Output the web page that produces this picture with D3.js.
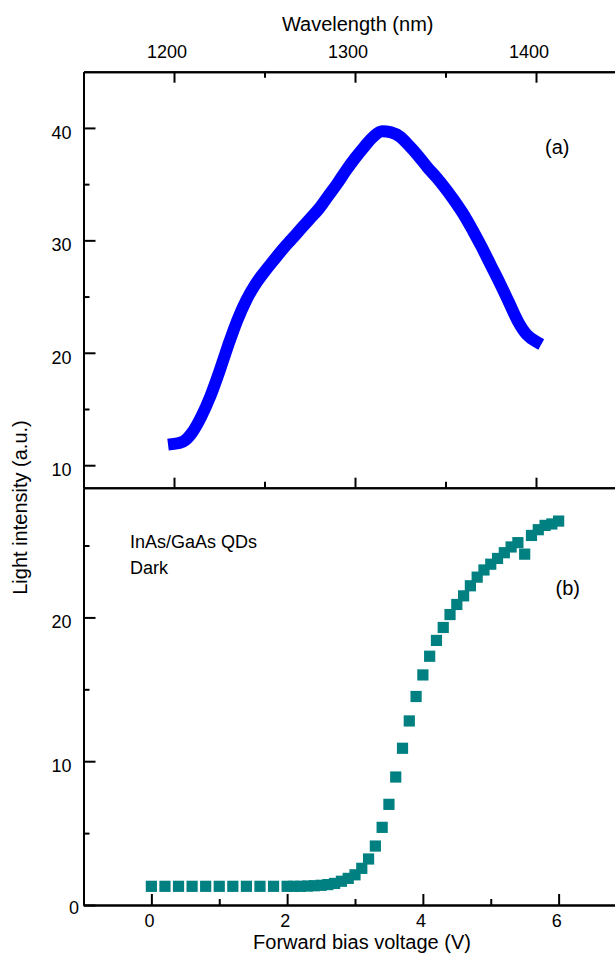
<!DOCTYPE html>
<html>
<head>
<meta charset="utf-8">
<script src="https://cdn.jsdelivr.net/npm/d3@7"></script>
<style>
  html, body { margin: 0; padding: 0; background: #fff; }
  svg { display: block; }
  text { font-family: "Liberation Sans", Arial, sans-serif; fill: #000; }
</style>
</head>
<body>
<script>
// ---------- data ----------
const wavelength = [1200,1205,1210,1215,1220,1225,1230,1235,1240,1245,1250,1255,1260,1265,1270,1275,1280,1285,1290,1295,1300,1305,1310,1315,1320,1325,1330,1335,1340,1345,1350,1355,1360,1365,1370,1375,1380,1385,1390,1395,1400];
const intensityA = [11.9,12.1,12.9,14.3,16.1,18.3,20.7,22.9,24.7,26.1,27.2,28.2,29.2,30.1,31.0,31.9,32.8,33.9,35.0,36.2,37.3,38.3,39.2,39.7,39.6,39.2,38.4,37.5,36.5,35.6,34.6,33.5,32.3,30.9,29.4,27.8,26.2,24.5,22.8,21.6,21.0];

const voltage = [0,0.2,0.4,0.6,0.8,1.0,1.2,1.4,1.6,1.8,
  2.0,2.1,2.2,2.3,2.4,2.5,2.6,2.7,2.8,2.9,3.0,3.1,3.2,3.3,3.4,3.5,3.6,3.7,3.8,3.9,
  4.0,4.1,4.2,4.3,4.4,4.5,4.6,4.7,4.8,4.9,5.0,5.1,5.2,5.3,5.4,5.5,5.6,5.7,5.8,5.9,6.0];
const intensityB = [1.3,1.3,1.3,1.3,1.3,1.3,1.3,1.3,1.3,1.3,
  1.3,1.3,1.3,1.32,1.34,1.37,1.42,1.5,1.65,1.85,2.1,2.55,3.2,4.1,5.4,7.0,8.9,10.9,12.8,14.5,
  16.0,17.3,18.4,19.3,20.2,20.9,21.5,22.2,22.8,23.3,23.7,24.1,24.5,24.9,25.2,24.4,25.7,26.1,26.4,26.5,26.7];

const wlMajor = [1200,1300,1400];
const wlMinor = [1250,1350];
const yAMajor = [10,20,30,40];
const yAMinor = [15,25,35];
const vMajor = [0,2,4,6];
const vMinor = [1,3,5];
const yBMajor = [0,10,20];
const yBMinor = [5,15,25];

// ---------- layout ----------
const W = 615, H = 954;
const X0 = 83.5, X1 = 626.5;
const svg = d3.select("body").append("svg").attr("width", W).attr("height", H);

const xA = d3.scaleLinear().domain([1150,1450]).range([X0,X1]);
const yA = d3.scaleLinear().domain([8,45]).range([487.7,71.7]);
const xB = d3.scaleLinear().domain([-1,7]).range([X0,X1]);
const yB = d3.scaleLinear().domain([0,29]).range([905,488]);

function style(g){
  g.selectAll("path.domain").attr("stroke","#000").attr("stroke-width",2);
  g.selectAll(".tick line").attr("stroke","#000").attr("stroke-width",2);
  g.selectAll(".tick text").attr("font-family","Liberation Sans, Arial, sans-serif").attr("font-size",18).attr("fill","#000");
  g.attr("font-family", null);
}

// top axis (wavelength)
svg.append("g").attr("transform","translate(0,71.7)")
  .call(d3.axisTop(xA).tickValues(wlMinor).tickSize(-6).tickSizeOuter(0).tickFormat("")).call(style);
svg.append("g").attr("transform","translate(0,71.7)")
  .call(d3.axisTop(xA).tickValues(wlMajor).tickSize(-11).tickSizeOuter(0).tickPadding(13.4).tickFormat(d3.format("d"))).call(style)
  .selectAll(".tick text").attr("x",-7.5);

// separator with upward ticks of panel (a)
svg.append("g").attr("transform","translate(0,487.7)")
  .call(d3.axisBottom(xA).tickValues(wlMinor).tickSize(-6).tickSizeOuter(0).tickFormat("")).call(style);
svg.append("g").attr("transform","translate(0,487.7)")
  .call(d3.axisBottom(xA).tickValues(wlMajor).tickSize(-10).tickSizeOuter(0).tickFormat("")).call(style);

// left axis panel (a)
svg.append("g").attr("transform",`translate(${X0},0)`)
  .call(d3.axisLeft(yA).tickValues(yAMinor).tickSize(-6).tickSizeOuter(0).tickFormat("")).call(style);
svg.append("g").attr("transform",`translate(${X0},0)`)
  .call(d3.axisLeft(yA).tickValues(yAMajor).tickSize(-12).tickSizeOuter(0).tickPadding(12)).call(style)
  .selectAll(".tick text").attr("dy","0.58em");

// left axis panel (b)
svg.append("g").attr("transform",`translate(${X0},0)`)
  .call(d3.axisLeft(yB).tickValues(yBMinor).tickSize(-6).tickSizeOuter(0).tickFormat("")).call(style);
const gLB = svg.append("g").attr("transform",`translate(${X0},0)`)
  .call(d3.axisLeft(yB).tickValues(yBMajor).tickSize(-12).tickSizeOuter(0).tickPadding(12)).call(style);
gLB.selectAll(".tick text").attr("dy","0.58em")
  .filter(d => d === 0).attr("x",-4.5).attr("dy","0.45em");

// bottom axis (voltage)
svg.append("g").attr("transform","translate(0,905)")
  .call(d3.axisBottom(xB).tickValues(vMinor).tickSize(-6).tickSizeOuter(0).tickFormat("")).call(style);
svg.append("g").attr("transform","translate(0,905)")
  .call(d3.axisBottom(xB).tickValues(vMajor).tickSize(-11).tickSizeOuter(0).tickPadding(9).tickFormat(d3.format("d"))).call(style)
  .selectAll(".tick text").attr("x",-2.5);

// ---------- panel (a) curve ----------
const lineA = d3.line().x((d,i)=>xA(wavelength[i])).y((d,i)=>yA(intensityA[i])).curve(d3.curveMonotoneX);
svg.append("path").datum(intensityA).attr("d", lineA)
  .attr("fill","none").attr("stroke","#0000ff").attr("stroke-width",12)
  .attr("stroke-linecap","square").attr("stroke-linejoin","round");

// ---------- panel (b) squares ----------
svg.append("g").selectAll("rect").data(voltage).join("rect")
  .attr("x",(d)=>xB(d)-5.6).attr("y",(d,i)=>yB(intensityB[i])-5.6)
  .attr("width",11.2).attr("height",11.2).attr("fill","#008080");

// ---------- texts ----------
svg.append("text").attr("x",357.7).attr("y",31).attr("text-anchor","middle").attr("font-size",20).text("Wavelength (nm)");
svg.append("text").attr("transform","translate(27,507.5) rotate(-90)").attr("text-anchor","middle").attr("font-size",20).text("Light intensity (a.u.)");
svg.append("text").attr("x",362).attr("y",949).attr("text-anchor","middle").attr("font-size",20).text("Forward bias voltage (V)");
svg.append("text").attr("x",545).attr("y",153.5).attr("font-size",20).text("(a)");
svg.append("text").attr("x",555.5).attr("y",595.2).attr("font-size",20).text("(b)");
svg.append("text").attr("x",130).attr("y",547.7).attr("font-size",18).text("InAs/GaAs QDs");
svg.append("text").attr("x",130).attr("y",573.7).attr("font-size",18).text("Dark");
</script>
</body>
</html>
